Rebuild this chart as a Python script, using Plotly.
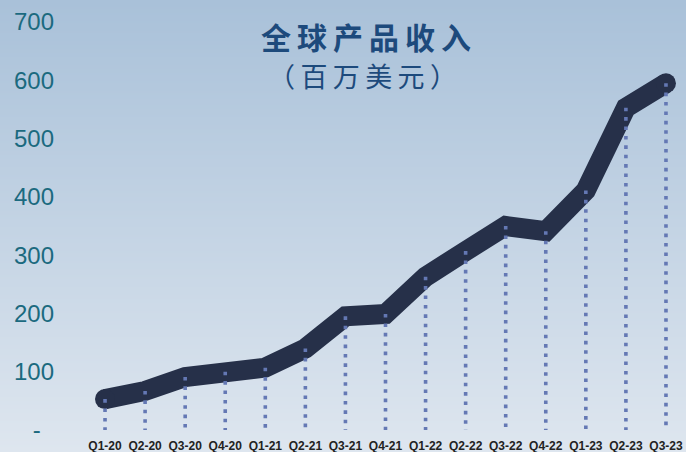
import zlib, struct, base64
import plotly.graph_objects as go

categories = ["Q1-20", "Q2-20", "Q3-20", "Q4-20", "Q1-21", "Q2-21", "Q3-21", "Q4-21",
              "Q1-22", "Q2-22", "Q3-22", "Q4-22", "Q1-23", "Q2-23", "Q3-23"]
revenue = [53, 67, 91, 100, 107, 140, 195, 199, 263, 307, 350, 341, 411, 553, 595]
y_ticks = [0, 100, 200, 300, 400, 500, 600, 700]
y_ticktext = ["-\u00a0\u00a0", "100", "200", "300", "400", "500", "600", "700"]
title_line1 = "全球产品收入"
title_line2 = "（百万美元）"

W, H = 686, 452
ML, MR, MT, MB = 85, 0, 22, 22

# vertical gradient background image
top_c, bot_c = (169, 193, 217), (222, 230, 239)
gh, gw = 226, 2
rows = []
for i in range(gh):
    t = i / (gh - 1)
    c = [round(top_c[k] + (bot_c[k] - top_c[k]) * t) for k in range(3)]
    rows.append(bytes(c * gw))
raw = b"".join(b"\x00" + r for r in rows)
def chunk(tag, data):
    return struct.pack(">I", len(data)) + tag + data + struct.pack(">I", zlib.crc32(tag + data) & 0xffffffff)
png = (b"\x89PNG\r\n\x1a\n" + chunk(b"IHDR", struct.pack(">IIBBBBB", gw, gh, 8, 2, 0, 0, 0))
       + chunk(b"IDAT", zlib.compress(raw)) + chunk(b"IEND", b""))
bg_uri = "data:image/png;base64," + base64.b64encode(png).decode()

pw, ph = W - ML - MR, H - MT - MB

fig = go.Figure()
fig.add_trace(go.Scatter(
    x=categories, y=revenue, mode="lines",
    line=dict(color="#263049", width=20), hoverinfo="skip", cliponaxis=False))
fig.add_trace(go.Scatter(
    x=[categories[0], categories[-1]], y=[revenue[0], revenue[-1]], mode="markers",
    marker=dict(color="#263049", size=20, line=dict(width=0)), hoverinfo="skip", cliponaxis=False))

dx, dy = [], []
for c, v in zip(categories, revenue):
    dx += [c, c, None]
    dy += [v, 0, None]
fig.add_trace(go.Scatter(
    x=dx, y=dy, mode="lines",
    line=dict(color="#6478b4", width=3.6, dash="3.6px,5.8px"), hoverinfo="skip", cliponaxis=False))

sp = "\u2009"
fig.update_layout(
    width=W, height=H,
    margin=dict(l=ML, r=MR, t=MT, b=MB),
    paper_bgcolor="#c3d3e3", plot_bgcolor="rgba(0,0,0,0)",
    showlegend=False,
    images=[dict(source=bg_uri, xref="paper", yref="paper",
                 x=-ML / pw, y=1 + MT / ph, sizex=W / pw, sizey=H / ph,
                 xanchor="left", yanchor="top", sizing="stretch", layer="below")],
    xaxis=dict(type="category", range=[-0.5, len(categories) - 0.5],
               showgrid=False, zeroline=False, showline=False, ticks="", automargin=False,
               tickfont=dict(family="Liberation Sans, Arial", size=12, color="#222222", weight="bold"),
               ticklabelstandoff=7),
    yaxis=dict(range=[0, 700], tickvals=y_ticks, ticktext=y_ticktext, automargin=False,
               showgrid=False, zeroline=False, showline=False, ticks="",
               tickfont=dict(family="Liberation Sans, Arial", size=24, color="#1b6a7f"),
               ticklabelstandoff=30),
    annotations=[
        dict(text=sp.join(title_line1), xref="paper", yref="paper", x=(366 - ML) / pw, y=1 - (36 - MT) / ph,
             showarrow=False, xanchor="center", yanchor="middle",
             font=dict(family="Noto Sans CJK SC", size=30, color="#1d4a7c", weight="bold")),
        dict(text=sp.join(title_line2), xref="paper", yref="paper", x=(362 - ML) / pw, y=1 - (76 - MT) / ph,
             showarrow=False, xanchor="center", yanchor="middle",
             font=dict(family="Noto Sans CJK SC", size=27, color="#1d4a7c")),
    ],
)

fig.write_html("out.html")
